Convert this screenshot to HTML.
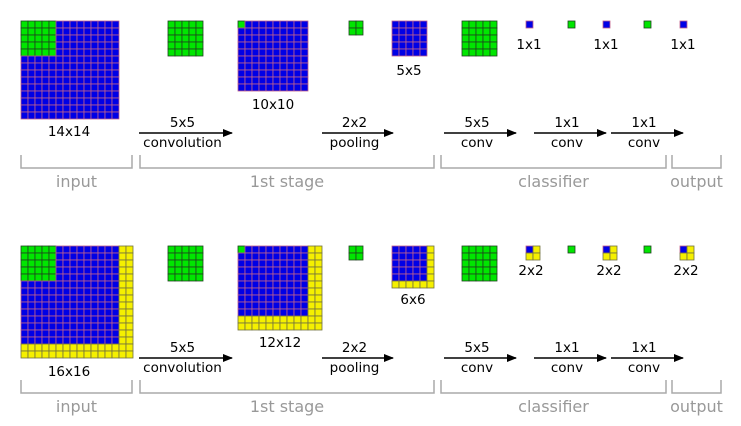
<!DOCTYPE html>
<html><head><meta charset="utf-8"><style>
html,body{margin:0;padding:0;background:#fff;width:741px;height:426px;overflow:hidden}
svg{display:block}
text{font-family:"DejaVu Sans","Liberation Sans",sans-serif}
</style></head><body>
<svg id="s" width="741" height="426" xmlns="http://www.w3.org/2000/svg">
<defs><marker id="ah" markerWidth="10" markerHeight="8" refX="9" refY="4" orient="auto" markerUnits="userSpaceOnUse"><path d="M0,0 L10,4 L0,8 z" fill="#000"/></marker></defs>
<g id="g"></g>
<g font-size="13.5" fill="#000" text-anchor="middle">
<text x="69" y="136">14x14</text><text x="273" y="109">10x10</text><text x="409" y="75">5x5</text>
<text x="529" y="49">1x1</text><text x="606" y="49">1x1</text><text x="683" y="49">1x1</text>
<text x="69" y="376">16x16</text><text x="280" y="347">12x12</text><text x="413" y="304">6x6</text>
<text x="531" y="275">2x2</text><text x="609" y="275">2x2</text><text x="686" y="275">2x2</text>
</g>
<g font-size="13.5" text-anchor="middle" id="arr"></g>
<g stroke="#aaa" stroke-width="1.5" fill="none" id="br"></g>
<g font-size="16" fill="#999" text-anchor="middle" id="bl"></g>
</svg>
<script>
var NS="http://www.w3.org/2000/svg",g=document.getElementById('g');
function r(x,y,w,h,f,s){var e=document.createElementNS(NS,'rect');e.setAttribute('x',x);e.setAttribute('y',y);e.setAttribute('width',w);e.setAttribute('height',h);e.setAttribute('fill',f);e.setAttribute('stroke',s);e.setAttribute('stroke-width','0.8');g.appendChild(e);}
var C={b:['#0000e6','#c0608a'],g:['#00e600','#204020'],y:['#f5f000','#707040']};
function grid(x,y,n,bn,gn,c){c=c||7;for(var i=0;i<n;i++)for(var j=0;j<n;j++){var t=(i<gn&&j<gn)?'g':((i<bn&&j<bn)?'b':'y');r(x+i*c,y+j*c,c,c,C[t][0],C[t][1]);}}
grid(21,21,14,14,5);grid(168,21,5,0,5);grid(238,21,10,10,1);grid(349,21,2,0,2);grid(392,21,5,5,0);
grid(462,21,5,0,5);grid(526,21,1,1,0);grid(568,21,1,0,1);grid(603,21,1,1,0);grid(644,21,1,0,1);grid(680,21,1,1,0);
var o=225;
grid(21,21+o,16,14,5);grid(168,21+o,5,0,5);grid(238,21+o,12,10,1);grid(349,21+o,2,0,2);grid(392,21+o,6,5,0);
grid(462,21+o,5,0,5);grid(526,21+o,2,1,0);grid(568,21+o,1,0,1);grid(603,21+o,2,1,0);grid(644,21+o,1,0,1);grid(680,21+o,2,1,0);
var A=document.getElementById('arr'),B=document.getElementById('br'),L=document.getElementById('bl');
function el(p,tag,at,txt){var e=document.createElementNS(NS,tag);for(var k in at)e.setAttribute(k,at[k]);if(txt)e.textContent=txt;p.appendChild(e);}
[[0,133],[o,358]].forEach(function(q){var y=q[1];
[[139,232,'5x5','convolution'],[322,393,'2x2','pooling'],[444,516,'5x5','conv'],[534,606,'1x1','conv'],[611,683,'1x1','conv']].forEach(function(a){
el(A,'line',{x1:a[0],y1:y,x2:a[1],y2:y,stroke:'#000','stroke-width':1.5,'marker-end':'url(#ah)'});
var cx=(a[0]+a[1]-6)/2;el(A,'text',{x:cx,y:y-6},a[2]);el(A,'text',{x:cx,y:y+14},a[3]);});
var by=q[0]+155;
[[21,132,'input'],[140,434,'1st stage'],[441,666,'classifier'],[672,721,'output']].forEach(function(b){
el(B,'path',{d:'M'+b[0]+','+by+' V'+(by+13)+' H'+b[1]+' V'+by});
el(L,'text',{x:(b[0]+b[1])/2,y:by+32},b[2]);});});
</script>
</body></html>
